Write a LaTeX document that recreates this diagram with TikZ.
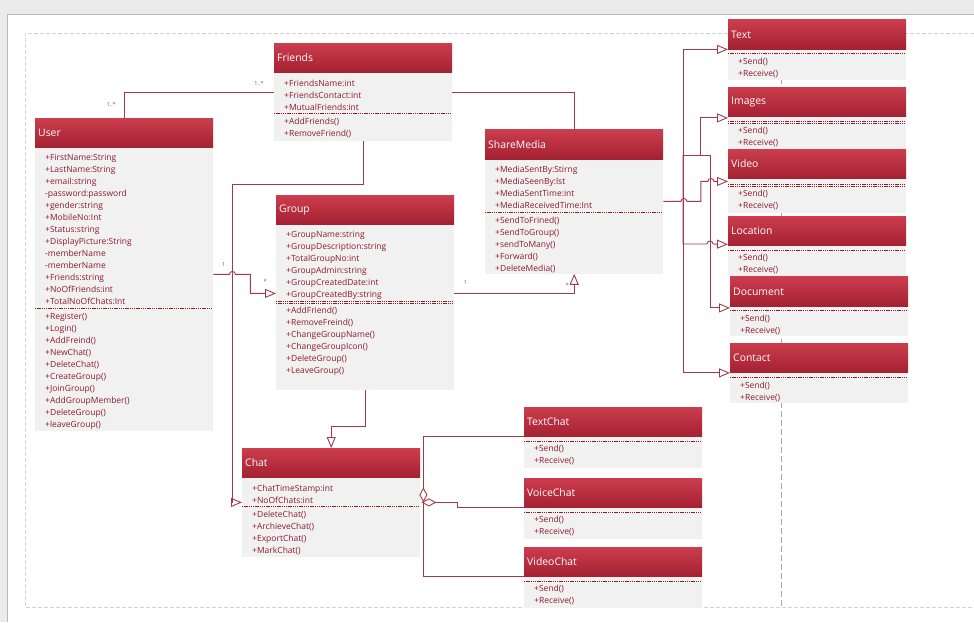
\documentclass[tikz,border=0pt]{standalone}
\usepackage{fontspec}
\setmainfont{Open Sans}
\usetikzlibrary{positioning,arrows.meta}
\definecolor{headtop}{HTML}{CC3D4E}
\definecolor{headbot}{HTML}{A32131}
\definecolor{bodygrey}{HTML}{F1F1F1}
\definecolor{textred}{HTML}{8E1A2C}
\definecolor{linkred}{HTML}{A23A4A}
\definecolor{pagegrey}{HTML}{EBEBEB}
\definecolor{frameline}{HTML}{B9B9B9}
\definecolor{guide}{HTML}{D3D3D3}

\begin{document}
\begin{tikzpicture}[
    x=1pt, y=-1pt,
    head/.style={shading=axis, top color=headtop, bottom color=headbot,
                 anchor=north west, minimum height=29.5pt, text width=172pt,
                 inner xsep=3pt, inner ysep=0pt, align=left, text=white,
                 font=\fontsize{10.4}{12}\selectfont},
    body/.style={fill=bodygrey, minimum width=178pt, inner sep=0pt},
    members/.style={anchor=north west, inner sep=0pt, align=left,
                    text=textred, font=\fontsize{8.5}{12}\selectfont},
    sep/.style={draw=textred, line width=0.6pt, dash pattern=on 1.3pt off 0.9pt},
    link/.style={draw=linkred, line width=0.9pt},
    gen/.style={link, -{Triangle[open, length=11pt, width=9pt]}},
    agg/.style={link, -{Diamond[open, length=15pt, width=8pt]}},
    mult/.style={font=\fontsize{5.5}{6}\selectfont, text=linkred, inner sep=0pt},
]
\useasboundingbox (0,0) rectangle (974,622);

% page and drawing sheet
\fill[pagegrey] (0,0) rectangle (974,622);
\fill[white] (7,14) rectangle (974,622);
\draw[frameline, line width=0.8pt] (974,14) -- (7,14) -- (7,622);
\draw[guide, line width=0.6pt, dash pattern=on 4pt off 2pt]
    (974,33) -- (25,33) -- (25,607) -- (974,607);
\draw[guide!80!black, line width=0.6pt, dash pattern=on 6pt off 3pt]
    (781,33) -- (781,607);

% User
\node[head] (user) at (35,118) {User};
\node[body, minimum height=282.5pt, below=0pt of user] (userbody) {};
\node[members, below right=6.5pt and 10pt of user.south west] (userattr)
    {+FirstName:String\\+LastName:String\\+email:string\\-password:password\\
     +gender:string\\+MobileNo:Int\\+Status:string\\+DisplayPicture:String\\
     -memberName\\-memberName\\+Friends:string\\+NoOfFriends:int\\
     +TotalNoOfChats:Int};
\draw[sep] ([yshift=-160.8pt]user.south west) coordinate (usersep) -- ++(178,0);
\node[members, below right=4.3pt and 10pt of usersep] (userops)
    {+Register()\\+Login()\\+AddFreind()\\+NewChat()\\+DeleteChat()\\
     +CreateGroup()\\+JoinGroup()\\+AddGroupMember()\\+DeleteGroup()\\
     +leaveGroup()};

% Friends
\node[head] (friends) at (274,43) {Friends};
\node[body, minimum height=67.5pt, below=0pt of friends] (friendsbody) {};
\node[members, below right=6.5pt and 10pt of friends.south west] (friendsattr)
    {+FriendsName:int\\+FriendsContact:int\\+MutualFriends:int};
\draw[sep] ([yshift=-40.8pt]friends.south west) coordinate (friendssep) -- ++(178,0);
\node[members, below right=4.3pt and 10pt of friendssep] (friendsops)
    {+AddFriends()\\+RemoveFriend()};

% Group
\node[head] (group) at (276,195) {Group};
\node[body, minimum height=164.5pt, below=0pt of group] (groupbody) {};
\node[members, below right=6.5pt and 10pt of group.south west] (groupattr)
    {+GroupName:string\\+GroupDescription:string\\+TotalGroupNo:int\\
     +GroupAdmin:string\\+GroupCreatedDate:int\\+GroupCreatedBy:string};
\draw[sep] ([yshift=-76pt]group.south west) -- ++(178,0);
\draw[sep] ([yshift=-78pt]group.south west) coordinate (groupsep) -- ++(178,0);
\node[members, below right=4.3pt and 10pt of groupsep] (groupops)
    {+AddFriend()\\+RemoveFreind()\\+ChangeGroupName()\\+ChangeGroupIcon()\\
     +DeleteGroup()\\+LeaveGroup()};

% ShareMedia
\node[head] (share) at (485,129.5) {ShareMedia};
\node[body, minimum height=114pt, below=0pt of share] (sharebody) {};
\node[members, below right=6.5pt and 10pt of share.south west] (shareattr)
    {+MediaSentBy:Stirng\\+MediaSeenBy:lst\\+MediaSentTime:int\\
     +MediaReceivedTime:Int};
\draw[sep] ([yshift=-52.8pt]share.south west) coordinate (sharesep) -- ++(178,0);
\node[members, below right=4.3pt and 10pt of sharesep] (shareops)
    {+SendToFrined()\\+SendToGroup()\\+sendToMany()\\+Forward()\\+DeleteMedia()};

% Chat
\node[head] (chat) at (242,448) {Chat};
\node[body, minimum height=79pt, below=0pt of chat] (chatbody) {};
\node[members, below right=6.5pt and 10pt of chat.south west] (chatattr)
    {+ChatTimeStamp:int\\+NoOfChats:int};
\draw[sep] ([yshift=-28.8pt]chat.south west) coordinate (chatsep) -- ++(178,0);
\node[members, below right=4.3pt and 10pt of chatsep] (chatops)
    {+DeleteChat()\\+ArchieveChat()\\+ExportChat()\\+MarkChat()};

% Media kinds
\node[head] (text) at (728,19.5) {Text};
\node[body, minimum height=30.5pt, below=0pt of text] (textbody) {};
\draw[sep] ([yshift=-4pt]text.south west) coordinate (textsep) -- ++(178,0);
\node[members, below right=4.3pt and 10pt of textsep] (textops) {+Send()\\+Receive()};

\node[head] (images) at (728,87) {Images};
\node[body, minimum height=31.5pt, below=0pt of images] (imagesbody) {};
\draw[sep] ([yshift=-4pt]images.south west) -- ++(178,0);
\draw[sep] ([yshift=-6pt]images.south west) coordinate (imagessep) -- ++(178,0);
\node[members, below right=4.3pt and 10pt of imagessep] (imagesops) {+Send()\\+Receive()};

\node[head] (video) at (728,149) {Video};
\node[body, minimum height=33.5pt, below=0pt of video] (videobody) {};
\draw[sep] ([yshift=-5pt]video.south west) -- ++(178,0);
\draw[sep] ([yshift=-7pt]video.south west) coordinate (videosep) -- ++(178,0);
\node[members, below right=4.3pt and 10pt of videosep] (videoops) {+Send()\\+Receive()};

\node[head] (location) at (728,216) {Location};
\node[body, minimum height=30pt, below=0pt of location] (locationbody) {};
\draw[sep] ([yshift=-4pt]location.south west) coordinate (locationsep) -- ++(178,0);
\node[members, below right=4.3pt and 10pt of locationsep] (locationops) {+Send()\\+Receive()};

\node[head] (document) at (730,276.5) {Document};
\node[body, minimum height=29pt, below=0pt of document] (documentbody) {};
\draw[sep] ([yshift=-4pt]document.south west) coordinate (documentsep) -- ++(178,0);
\node[members, below right=4.3pt and 10pt of documentsep] (documentops) {+Send()\\+Receive()};

\node[head] (contact) at (730,343) {Contact};
\node[body, minimum height=29.5pt, below=0pt of contact] (contactbody) {};
\draw[sep] ([yshift=-4.5pt]contact.south west) coordinate (contactsep) -- ++(178,0);
\node[members, below right=4.3pt and 10pt of contactsep] (contactops) {+Send()\\+Receive()};

% Chat kinds
\node[head] (textchat) at (524,407) {TextChat};
\node[body, minimum height=30.5pt, below=0pt of textchat] (textchatbody) {};
\draw[sep] ([yshift=-4pt]textchat.south west) coordinate (textchatsep) -- ++(178,0);
\node[members, below right=4.3pt and 10pt of textchatsep] (textchatops) {+Send()\\+Receive()};

\node[head] (voicechat) at (524,478) {VoiceChat};
\node[body, minimum height=30.5pt, below=0pt of voicechat] (voicechatbody) {};
\draw[sep] ([yshift=-4pt]voicechat.south west) coordinate (voicechatsep) -- ++(178,0);
\node[members, below right=4.3pt and 10pt of voicechatsep] (voicechatops) {+Send()\\+Receive()};

\node[head] (videochat) at (524,547) {VideoChat};
\node[body, minimum height=30.5pt, below=0pt of videochat] (videochatbody) {};
\draw[sep] ([yshift=-4pt]videochat.south west) coordinate (videochatsep) -- ++(178,0);
\node[members, below right=4.3pt and 10pt of videochatsep] (videochatops) {+Send()\\+Receive()};

% Associations
\draw[link] (user.north) |- ([yshift=-19.5pt]friends.south west)
    node[mult, pos=0.27, left=8pt] {1..*}
    node[mult, pos=0.95, above=6pt] {1..*};
\draw[link] ([yshift=-19.5pt]friends.south east) -| (share.north);

% Generalisations
\draw[gen] (friendsbody.south) -- ++(0,44)
    -| ([xshift=-10pt, yshift=-24.5pt]chat.south west)
    -- ([yshift=-24.5pt]chat.south west);
\draw[gen] ([yshift=-126.5pt]user.south east) node[mult, above right=7pt and 8pt] {1}
    -- ++(16,0) arc[start angle=180, end angle=0, radius=3pt] -- ++(15,0)
    |- ([yshift=-68.5pt]group.south west) node[mult, above left=9pt and 9pt] {*};
\draw[gen] ([yshift=-68.5pt]group.south east) node[mult, above right=8pt and 9pt] {1}
    -| (sharebody.south) node[mult, below left=9pt and 5pt] {*};
\draw[gen] (groupbody.south) -- ++(0,37) -| (chat.north);

% Aggregation of chat kinds
\draw[agg] (textchat.south west) -| ([xshift=3pt, yshift=-24.5pt]chat.south east);
\draw[agg] (voicechat.south west) -- ++(-67,0)
    |- ([xshift=1pt, yshift=-24.5pt]chat.south east);
\draw[link] (videochat.south west) -| ([xshift=3pt, yshift=-24.5pt]chat.south east);

% Media kinds
\coordinate (mhub) at (683,155);
\draw[gen] (mhub) |- (text.south west);
\draw[gen] (mhub) -- ++(17,0) |- ([yshift=-1pt]images.south west);
\draw[gen] (mhub) -- ++(27,0) |- ([yshift=-1.5pt]document.south west);
\draw[gen] (mhub) -- ++(0,89) -- ++(24,0) arc[start angle=180, end angle=0, radius=3pt]
    -- ([yshift=1.5pt]location.south west);
\draw[gen] (mhub) |- (contact.south west);
\draw[gen] ([yshift=-42pt]share.south east) -- ++(17.5,0)
    arc[start angle=180, end angle=0, radius=3pt] -- ++(14,0) -- ++(0,-20)
    -- ++(7,0) arc[start angle=180, end angle=0, radius=3pt]
    -- ([yshift=-2.5pt]video.south west);

\end{tikzpicture}
\end{document}
